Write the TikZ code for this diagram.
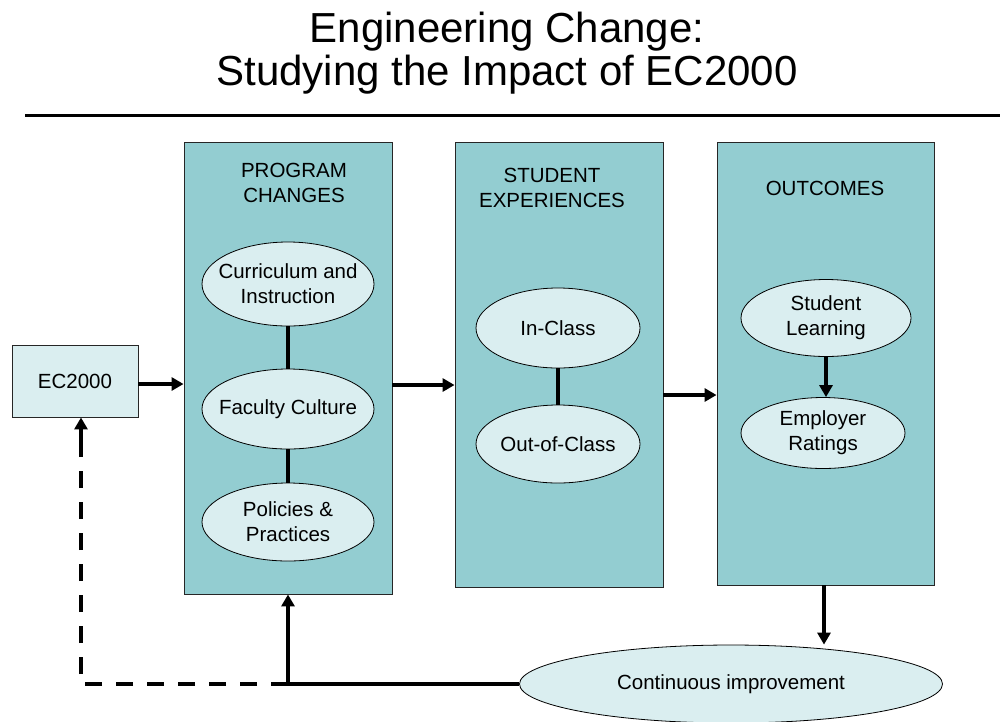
\documentclass[tikz,border=0pt]{standalone}
\usepackage{fontspec}
\setmainfont{Liberation Sans}
\usetikzlibrary{arrows.meta,shapes.geometric,calc}
\definecolor{boxteal}{RGB}{147,205,209}
\definecolor{ovalfill}{RGB}{218,238,240}
\tikzset{
  stage/.style={draw=black!85, line width=0.9pt, fill=boxteal, inner sep=0pt},
  inputbox/.style={draw=black!85, line width=0.9pt, fill=ovalfill, inner sep=0pt, font=\fontsize{20.5}{25}\selectfont},
  stagetitle/.style={align=center, font=\fontsize{20.5}{25}\selectfont, inner sep=0pt},
  oval/.style={ellipse, draw=black, line width=0.8pt, fill=ovalfill, inner sep=0pt},
  ovaltext/.style={align=center, font=\fontsize{20.5}{25}\selectfont, inner sep=0pt},
  flow/.style={line width=4pt, -{Triangle[length=12pt,width=13pt]}},
  link/.style={line width=4pt},
  feedback/.style={line width=4pt, dash pattern=on 17pt off 14pt},
}
\begin{document}
\begin{tikzpicture}[x=1pt,y=-1pt]
\useasboundingbox (0,0) rectangle (1000,721);

% heading
\node[align=center, font=\fontsize{42}{43}\selectfont, inner sep=0pt] (head) at (507,53)
  {Engineering Change:\\Studying the Impact of EC2000};
\draw[line width=3pt] (25,115) -- (1000,115);

% input and the three stages
\node[inputbox, minimum width=126pt, minimum height=72pt] (ec) at (75,381) {EC2000};
\node[stage, minimum width=208pt, minimum height=452pt] (prog) at (288,368) {};
\node[stage, minimum width=208pt, minimum height=445pt] (stud) at (559,364.5) {};
\node[stage, minimum width=217pt, minimum height=443pt] (outc) at (825.5,363.5) {};

\node[stagetitle] (progt) at (294,183) {PROGRAM\\CHANGES};
\node[stagetitle] (studt) at (552,188) {STUDENT\\EXPERIENCES};
\node[stagetitle] (outct) at (825,188) {OUTCOMES};

% program changes
\node[oval, minimum width=172pt, minimum height=84pt] (curr) at (288,284) {};
\node[ovaltext] (currt) at (curr) {Curriculum and\\Instruction};
\node[oval, minimum width=172pt, minimum height=80pt] (fac) at (288,409) {};
\node[ovaltext] (fact) at (fac) {Faculty Culture};
\node[oval, minimum width=172pt, minimum height=78pt] (pol) at (288,522) {};
\node[ovaltext] (polt) at (pol) {Policies \&\\Practices};
\draw[link] (curr.south) -- (fac.north);
\draw[link] (fac.south) -- (pol.north);

% student experiences
\node[oval, minimum width=164pt, minimum height=80pt] (inc) at (558,328) {};
\node[ovaltext] (inct) at (inc) {In-Class};
\node[oval, minimum width=164pt, minimum height=78pt] (outcl) at (558,444) {};
\node[ovaltext] (outclt) at (outcl) {Out-of-Class};
\draw[link] (inc.south) -- (outcl.north);

% outcomes
\node[oval, minimum width=170pt, minimum height=77pt] (learn) at (826,318) {};
\node[ovaltext] (learnt) at (learn) {Student\\Learning};
\node[oval, minimum width=164pt, minimum height=71pt] (emp) at (823,433) {};
\node[ovaltext] (empt) at (emp) {Employer\\Ratings};
\draw[flow] (learn.south) -- (learn.south |- emp.north);

% continuous improvement
\node[oval, minimum width=423pt, minimum height=78pt] (cont) at (731,684) {};
\node[ovaltext] (contt) at (cont) {Continuous improvement};

% forward flow between stages
\coordinate (f1) at ($(ec.east)+(0,3)$);
\coordinate (f2) at ($(prog.east)+(0,17)$);
\coordinate (f3) at ($(stud.east)+(0,30.5)$);
\coordinate (f4) at ($(outc.south)+(-1.5,0)$);
\draw[flow] (f1) -- (f1 -| prog.west);
\draw[flow] (f2) -- (f2 -| stud.west);
\draw[flow] (f3) -- (f3 -| outc.west);
\draw[flow] (f4) -- (f4 |- cont.north);

% feedback loop
\coordinate (junc) at (prog.south |- cont.west);
\coordinate (corner) at (81,684);
\coordinate (back) at (corner |- ec.south);
\draw[link] (cont.west) -- (junc);
\draw[flow] (junc) -- (prog.south);
\draw[feedback] (junc) -- (corner) -- ($(corner)!0.93!(back)$);
\draw[flow] ($(corner)!0.9!(back)$) -- (back);
\end{tikzpicture}
\end{document}
